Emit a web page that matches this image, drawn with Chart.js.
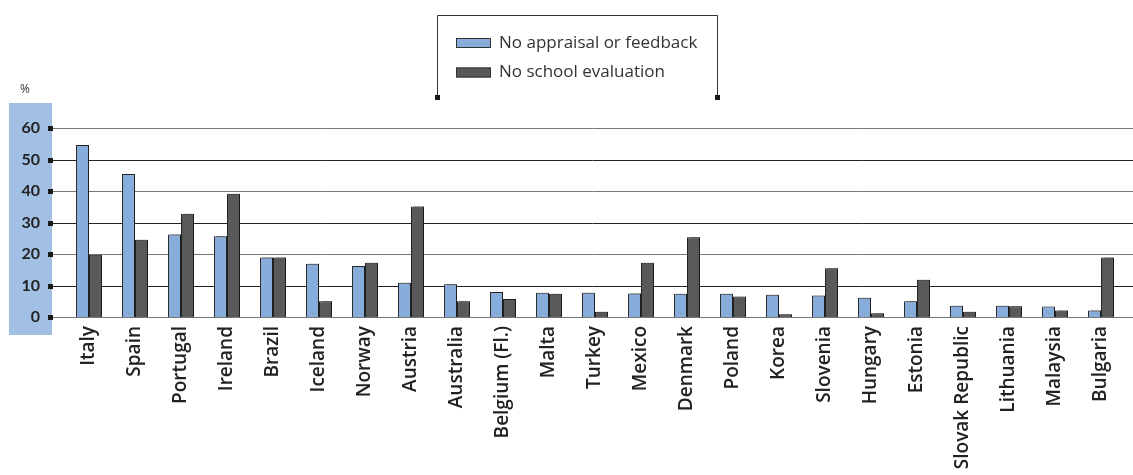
<!DOCTYPE html>
<html>
<head>
<meta charset="utf-8">
<script src="https://cdn.jsdelivr.net/npm/chart.js@4"></script>
<style>
  body { margin: 0; background: #fff; }
  canvas { display: block; }
</style>
</head>
<body>
<canvas id="chart" width="1133" height="475"></canvas>
<script>
const countries = [
  "Italy", "Spain", "Portugal", "Ireland", "Brazil", "Iceland", "Norway",
  "Austria", "Australia", "Belgium (Fl.)", "Malta", "Turkey", "Mexico",
  "Denmark", "Poland", "Korea", "Slovenia", "Hungary", "Estonia",
  "Slovak Republic", "Lithuania", "Malaysia", "Bulgaria",
];
const noAppraisal = [
  54.6, 45.4, 26.2, 25.6, 18.9, 16.9, 16.2, 10.9, 10.4, 7.9, 7.7, 7.7,
  7.5, 7.4, 7.4, 7.1, 6.8, 6.1, 5.0, 3.6, 3.6, 3.3, 2.1,
];
const noSchoolEval = [
  19.8, 24.5, 32.8, 39.1, 18.9, 5.0, 17.2, 35.1, 5.0, 5.7, 7.4, 1.7,
  17.2, 25.3, 6.5, 0.9, 15.5, 1.2, 11.8, 1.7, 3.4, 2.1, 18.9,
];
const yTicks = [0, 10, 20, 30, 40, 50, 60];

const FONT = "'Open Sans'";

// blue band behind the y labels, the grid lines and their square ends
const backdrop = {
  id: "backdrop",
  beforeDraw(chart) {
    const ctx = chart.ctx;
    ctx.save();
    ctx.fillStyle = "#a2c0e4";
    ctx.fillRect(9, 103, 43, 232);
    ctx.fillStyle = "#333";
    ctx.font = "12px " + FONT;
    ctx.textAlign = "left";
    ctx.textBaseline = "middle";
    ctx.fillText("%", 20, 90);
    ctx.restore();
  },
  beforeDatasetsDraw(chart) {
    const ctx = chart.ctx;
    const y = chart.scales.y;
    ctx.save();
    yTicks.forEach((v, i) => {
      const py = Math.round(y.getPixelForValue(v)) + 0.5;
      ctx.strokeStyle = i % 2 ? "#222" : "#777";
      ctx.lineWidth = 1;
      ctx.beginPath();
      ctx.moveTo(52, py);
      ctx.lineTo(chart.width, py);
      ctx.stroke();
      ctx.fillStyle = "#1a1a1a";
      ctx.fillRect(48, py - 2.5, 5, 5);
    });
    ctx.shadowColor = "rgba(0,0,0,0.3)";
    ctx.shadowOffsetX = 2;
    ctx.shadowOffsetY = -1;
    ctx.shadowBlur = 1;
  },
  afterDatasetsDraw(chart) {
    chart.ctx.restore();
  },
  afterDraw(chart) {
    const ctx = chart.ctx;
    ctx.save();
    // open-bottom legend frame
    ctx.strokeStyle = "#333";
    ctx.lineWidth = 1;
    ctx.beginPath();
    ctx.moveTo(437.5, 97);
    ctx.lineTo(437.5, 15.5);
    ctx.lineTo(717.5, 15.5);
    ctx.lineTo(717.5, 97);
    ctx.stroke();
    ctx.fillStyle = "#1a1a1a";
    ctx.fillRect(435, 95, 5, 5);
    ctx.fillRect(715, 95, 5, 5);

    ctx.font = "17px " + FONT;
    ctx.textAlign = "left";
    ctx.textBaseline = "middle";
    chart.data.datasets.forEach((ds, i) => {
      const cy = 43 + i * 29.5;
      ctx.fillStyle = ds.backgroundColor;
      ctx.fillRect(456, cy - 5, 35, 10);
      ctx.strokeStyle = "#333";
      ctx.strokeRect(456.5, cy - 4.5, 34, 9);
      ctx.fillStyle = "#333";
      ctx.fillText(ds.label, 499, cy);
    });
    ctx.restore();
  },
};

new Chart(document.getElementById("chart"), {
  type: "bar",
  data: {
    labels: countries,
    datasets: [
      {
        label: "No appraisal or feedback",
        data: noAppraisal,
        backgroundColor: "#89addb",
        borderColor: "#2b2b2b",
        borderWidth: 1,
      },
      {
        label: "No school evaluation",
        data: noSchoolEval,
        backgroundColor: "#58595b",
        borderColor: "#222",
        borderWidth: 1,
      },
    ],
  },
  options: {
    responsive: false,
    animation: false,
    devicePixelRatio: 1,
    layout: { padding: { top: 128, right: 9, left: 0, bottom: 0 } },
    datasets: {
      bar: { categoryPercentage: 0.565, barPercentage: 1 },
    },
    plugins: {
      legend: { display: false },
      tooltip: { enabled: false },
    },
    scales: {
      x: {
        grid: { display: false, drawTicks: false },
        border: { display: false },
        ticks: {
          autoSkip: false,
          maxRotation: 90,
          minRotation: 90,
          padding: 9,
          color: "#222",
          font: { family: FONT, size: 19, weight: "600" },
        },
        afterFit(scale) {
          scale.height = 158;
        },
      },
      y: {
        min: 0,
        max: 60,
        afterBuildTicks(scale) {
          scale.ticks = yTicks.map((v) => ({ value: v }));
        },
        grid: { display: false, drawTicks: false },
        border: { display: false },
        ticks: {
          padding: 26,
          color: "#222",
          font: { family: "Lato", size: 16, weight: "bold" },
        },
        afterFit(scale) {
          scale.width = 66;
        },
      },
    },
  },
  plugins: [backdrop],
});
</script>
</body>
</html>
